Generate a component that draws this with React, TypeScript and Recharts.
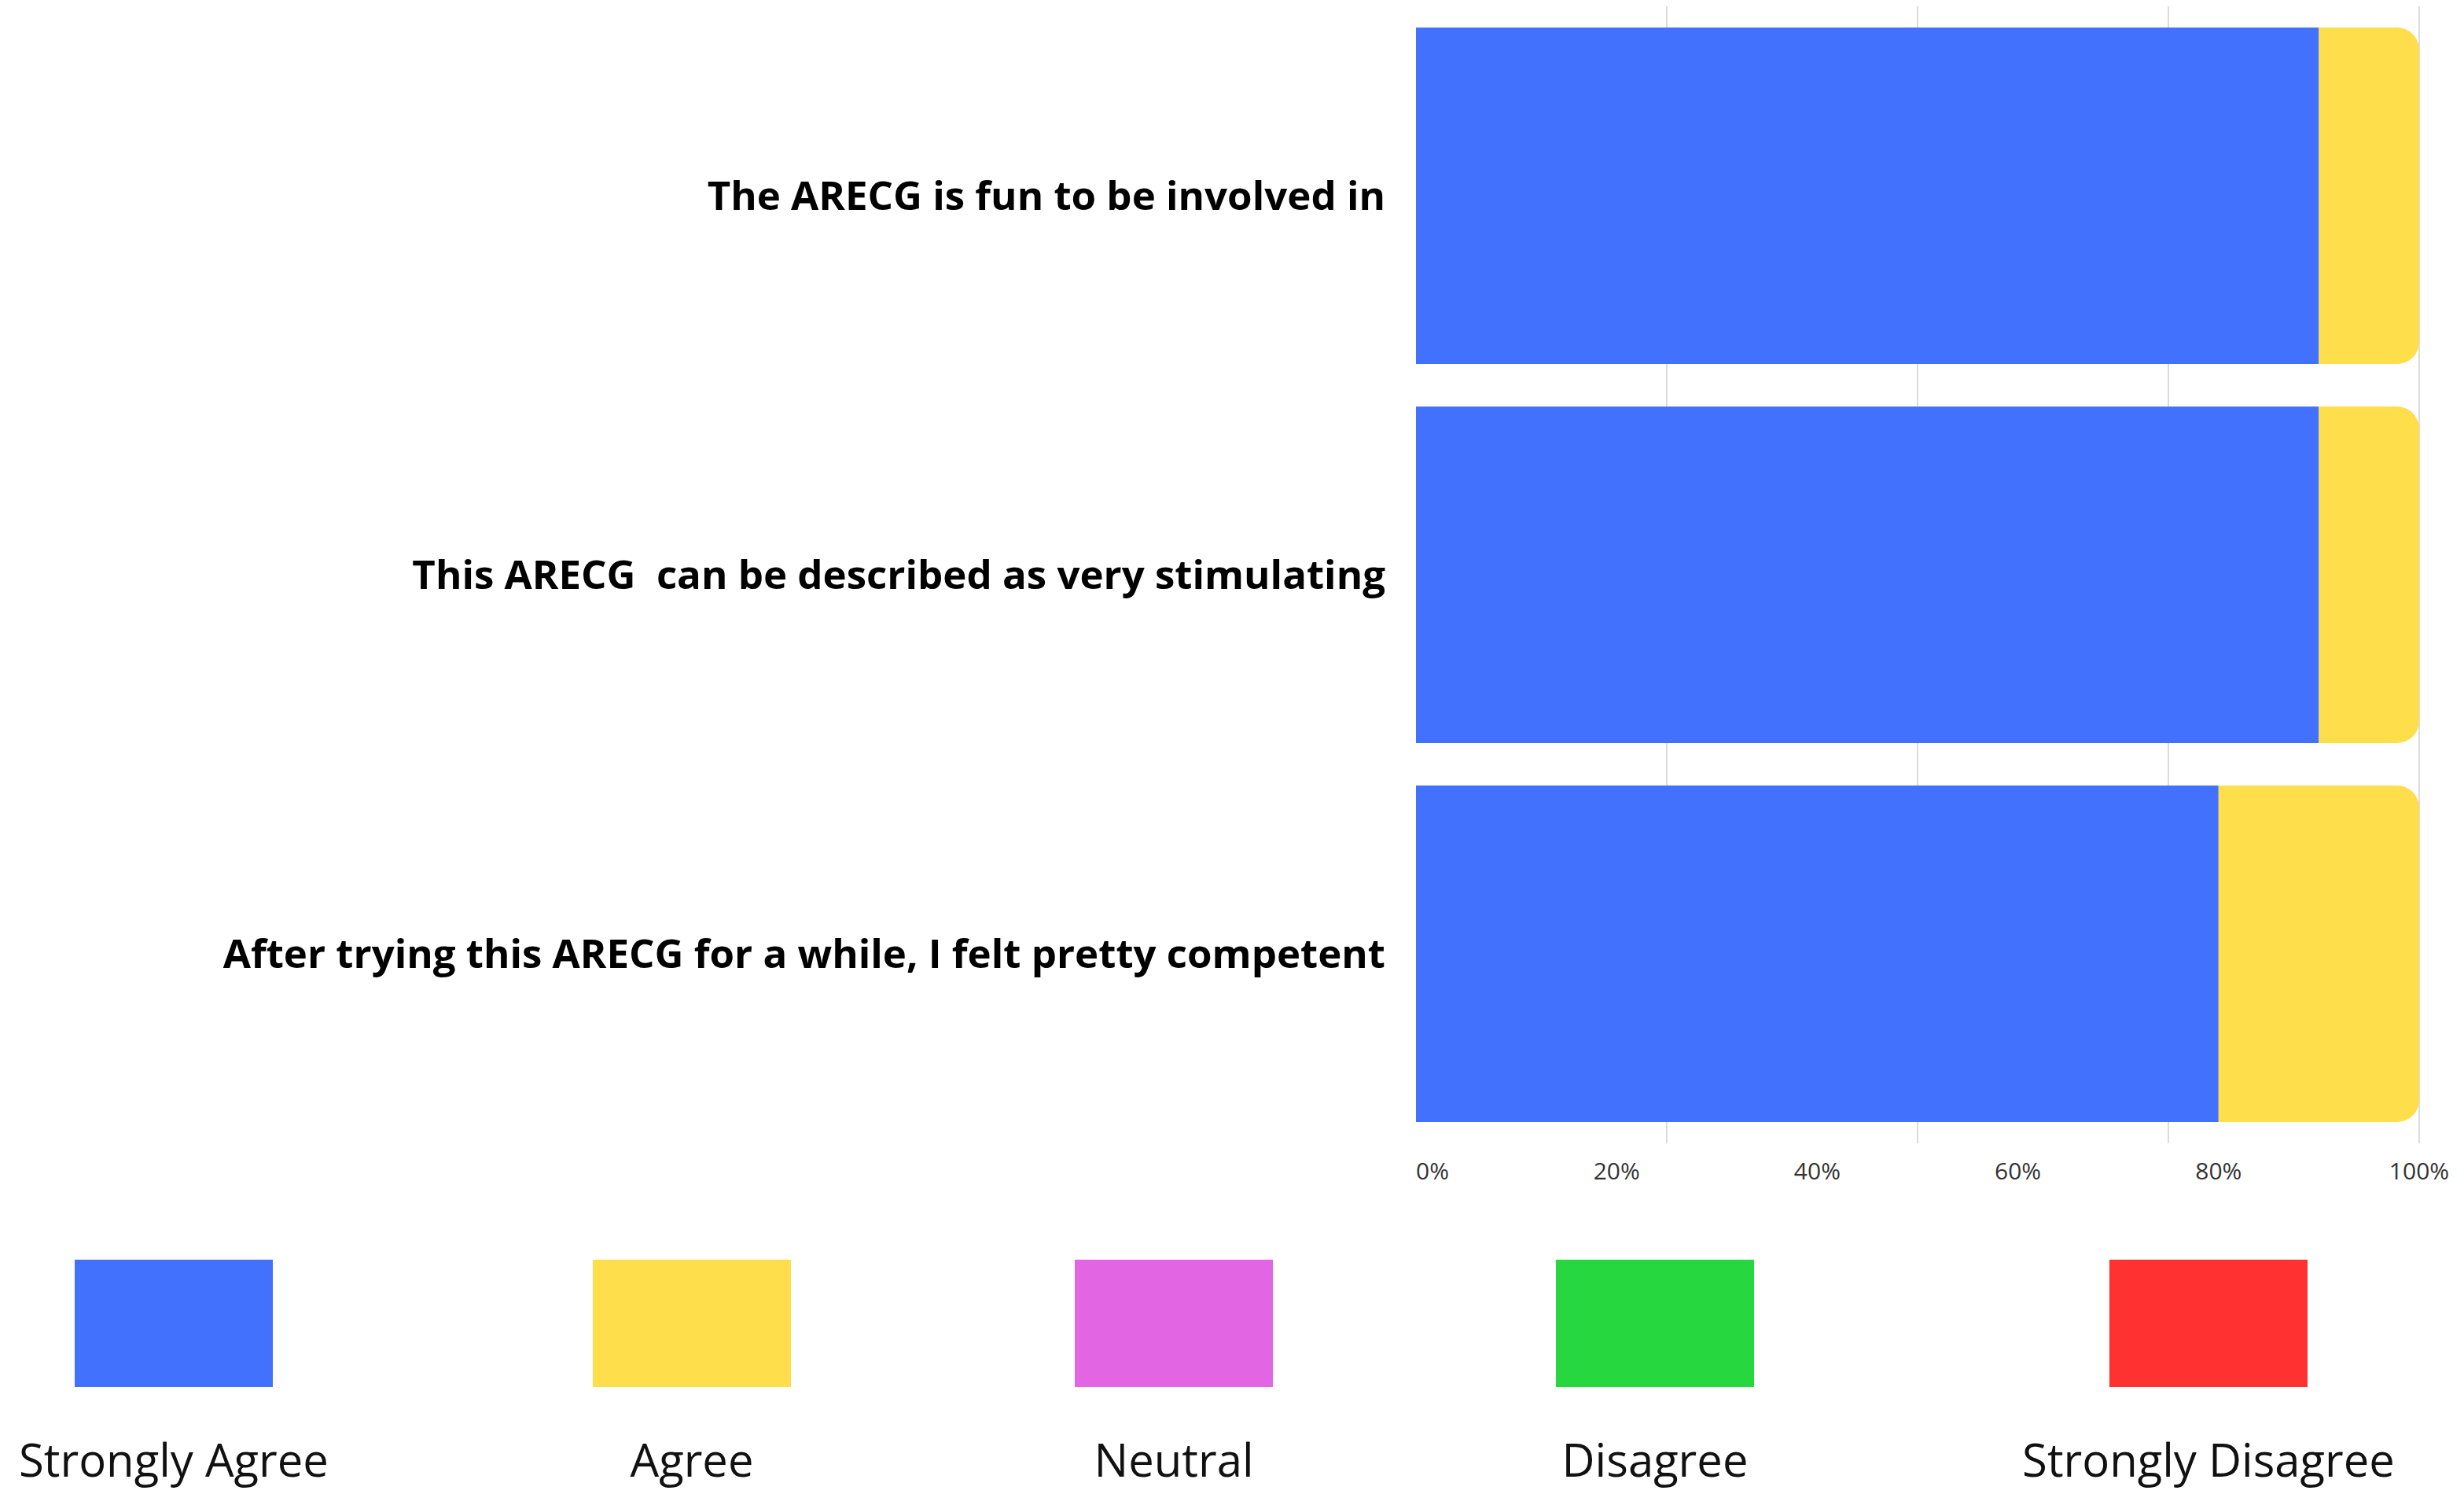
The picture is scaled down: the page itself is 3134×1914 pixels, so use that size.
import { BarChart, Bar, XAxis, YAxis, CartesianGrid } from "recharts";

const statements = [
  "The ARECG is fun to be involved in",
  "This ARECG  can be described as very stimulating",
  "After trying this ARECG for a while, I felt pretty competent",
];

const stronglyAgree = [90, 90, 80];
const agree = [10, 10, 20];
const neutral = [0, 0, 0];
const disagree = [0, 0, 0];
const stronglyDisagree = [0, 0, 0];

const percentTicks = [0, 20, 40, 60, 80, 100];
const gridTicks = [25, 50, 75, 100];

const SERIES = [
  { key: "stronglyAgree", name: "Strongly Agree", color: "#4272fd", values: stronglyAgree },
  { key: "agree", name: "Agree", color: "#ffde4b", values: agree },
  { key: "neutral", name: "Neutral", color: "#e266e3", values: neutral },
  { key: "disagree", name: "Disagree", color: "#26d73f", values: disagree },
  { key: "stronglyDisagree", name: "Strongly Disagree", color: "#ff3131", values: stronglyDisagree },
];

// legend item centres across the page (layout only)
const LEGEND_CENTERS = [213, 872, 1485, 2097, 2801];

const data = statements.map((s, i) => {
  const row: Record<string, string | number> = { statement: s };
  SERIES.forEach((se) => {
    row[se.key] = se.values[i];
  });
  return row;
});

const CHART_W = 3118;
const CHART_H = 1530;

function StatementTick(props: any) {
  const { x, y, payload } = props;
  return (
    <text
      x={x}
      y={y}
      dy="0.36em"
      textAnchor="end"
      fill="#000"
      style={{ fontFamily: "'Open Sans', sans-serif", fontWeight: 700, fontSize: 51, whiteSpace: "pre" }}
    >
      {payload.value}
    </text>
  );
}

function PercentTick(props: any) {
  const { x, y, payload, index } = props;
  return (
    <text
      x={x}
      y={y}
      dy="0.71em"
      textAnchor={index === 0 ? "start" : "middle"}
      fill="#333"
      style={{ fontFamily: "'Open Sans', sans-serif", fontSize: 30 }}
    >
      {`${payload.value}%`}
    </text>
  );
}

export default function App() {
  return (
    <div style={{ position: "relative", width: CHART_W, height: 1898, background: "#fff" }}>
      <BarChart
        width={CHART_W}
        height={CHART_H}
        data={data}
        layout="vertical"
        margin={{ top: 0, right: 49, bottom: 24, left: 0 }}
        barSize={428}
      >
        <CartesianGrid horizontal={false} stroke="#dcdcdc" strokeWidth={2} verticalValues={gridTicks} />
        <XAxis
          type="number"
          domain={[0, 100]}
          ticks={percentTicks}
          axisLine={false}
          tickLine={false}
          tickMargin={19}
          height={60}
          tick={<PercentTick />}
          interval={0}
        />
        <YAxis
          type="category"
          dataKey="statement"
          width={1793}
          axisLine={false}
          tickLine={false}
          tickMargin={33}
          tick={<StatementTick />}
          interval={0}
        />
        {SERIES.map((se) => (
          <Bar
            key={se.key}
            dataKey={se.key}
            name={se.name}
            stackId="a"
            fill={se.color}
            radius={se.key === "agree" ? [0, 28, 28, 0] : 0}
            isAnimationActive={false}
          />
        ))}
      </BarChart>
      {SERIES.map((se, i) => (
        <div
          key={se.key}
          style={{
            position: "absolute",
            left: LEGEND_CENTERS[i] - 260,
            top: 1594,
            width: 520,
            display: "flex",
            flexDirection: "column",
            alignItems: "center",
          }}
        >
          <div style={{ width: 252, height: 162, background: se.color }} />
          <div
            style={{
              marginTop: 54,
              fontFamily: "'Open Sans', sans-serif",
              fontSize: 58,
              lineHeight: "76px",
              color: "#111",
              whiteSpace: "nowrap",
            }}
          >
            {se.name}
          </div>
        </div>
      ))}
    </div>
  );
}
